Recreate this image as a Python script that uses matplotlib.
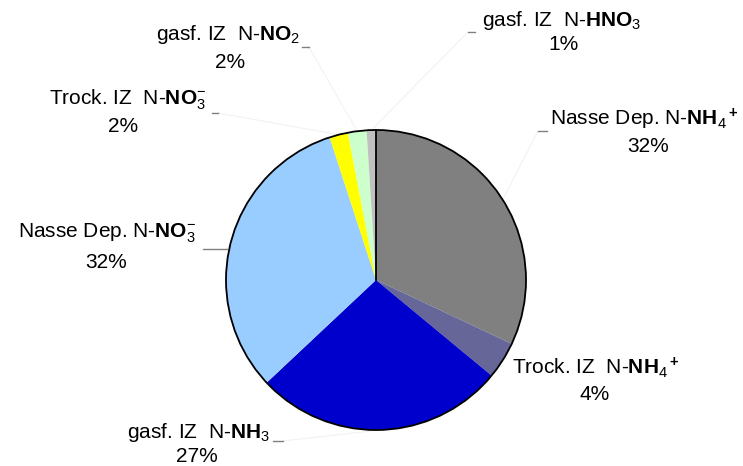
import matplotlib
matplotlib.use("Agg")
import matplotlib.pyplot as plt
import numpy as np
from matplotlib.patches import Circle

plt.rcParams['font.family'] = ['Liberation Sans', 'DejaVu Sans']
plt.rcParams['mathtext.fontset'] = 'custom'
plt.rcParams['mathtext.rm'] = 'Liberation Sans'
plt.rcParams['mathtext.bf'] = 'Liberation Sans:bold'
plt.rcParams['mathtext.it'] = 'Liberation Sans:italic'

# ---- data ----
categories = [
    r"Nasse Dep. N-$\mathbf{NH}_4\mathbf{^+}$",
    r"Trock. IZ  N-$\mathbf{NH}_4\mathbf{^+}$",
    r"gasf. IZ  N-$\mathbf{NH}_3$",
    r"Nasse Dep. N-$\mathbf{NO}_3^{-}$",
    r"Trock. IZ  N-$\mathbf{NO}_3^{-}$",
    r"gasf. IZ  N-$\mathbf{NO}_2$",
    r"gasf. IZ  N-$\mathbf{HNO}_3$",
]
values = [32, 4, 27, 32, 2, 2, 1]

# ---- style / layout ----
colors = ["#808080", "#666699", "#0000CC", "#99CCFF", "#FFFF00", "#CCFFCC", "#C0C0C0"]
W, H = 743, 466
cx, cy, R = 376, H - 280, 150
# label centre (x, y from top) for name line and percent line
name_pos = [(644, 119), (596, 368), (199, 432), (107, 233), (128, 100), (228, 35), (562, 20)]
pct_pos = [(648, 146), (595, 394), (197, 456), (106, 262), (123, 127), (230, 62), (564, 45)]
# short leader tick (x0, x1, y from top); None = no tick
ticks = [(538, 547, 131), None, (273, 283, 441), (203, 227, 249),
         (212, 218, 113), (302, 309, 47), (468, 475, 32)]

fig = plt.figure(figsize=(W / 100, H / 100), dpi=100)
ax = fig.add_axes([0, 0, 1, 1])

wedges, _ = ax.pie(values, colors=colors, startangle=90, counterclock=False,
                   center=(cx, cy), radius=R, frame=True,
                   wedgeprops=dict(linewidth=0, edgecolor='none'))
ax.set_xlim(0, W)
ax.set_ylim(0, H)
ax.set_aspect('equal')
ax.axis('off')
ax.add_patch(Circle((cx, cy), R, fill=False, edgecolor='black', linewidth=1.3, zorder=5))
ax.plot([cx, cx], [cy, cy + R], color='black', linewidth=1.3, zorder=5)

for i, (w, name, v) in enumerate(zip(wedges, categories, values)):
    nx, ny = name_pos[i]
    px, py = pct_pos[i]
    ax.text(nx, H - ny, name, ha='center', va='center', fontsize=15, color='black')
    ax.text(px, H - py, f"{v}%", ha='center', va='center', fontsize=15, color='black')
    mid = np.deg2rad((w.theta1 + w.theta2) / 2)
    ex, ey = cx + R * np.cos(mid), cy + R * np.sin(mid)
    t = ticks[i]
    if t is not None:
        x0, x1, ty = t
        tx = x1 if x1 < cx else x0
        ax.plot([ex, tx], [ey, H - ty], color='#f2f2f2', linewidth=0.8, zorder=1)
        ax.plot([x0, x1], [H - ty, H - ty], color='#808080', linewidth=1.0, zorder=6)

fig.savefig("out.png", dpi=100)
